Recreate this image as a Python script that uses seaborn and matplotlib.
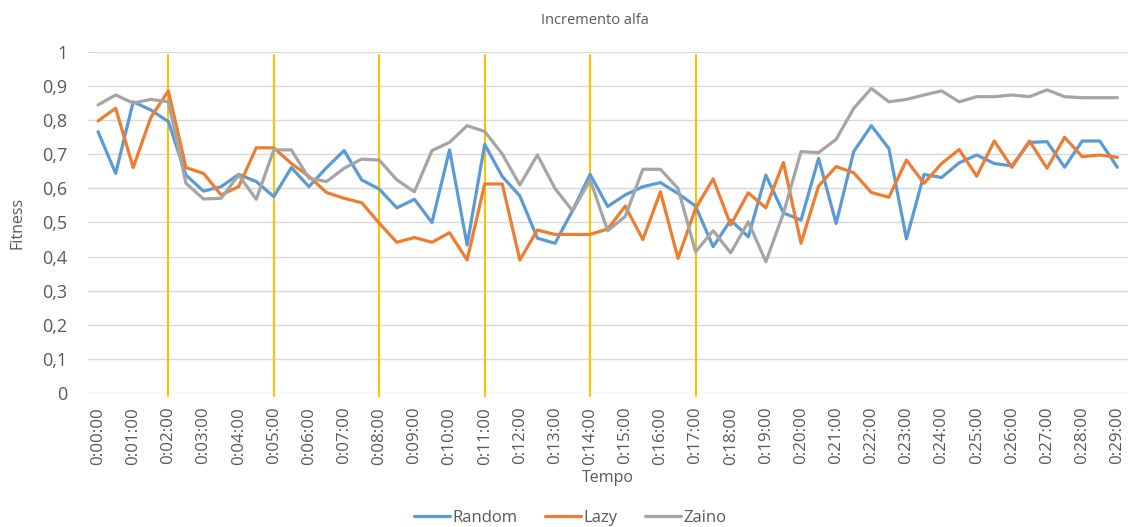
import matplotlib
matplotlib.use("Agg")
import matplotlib.pyplot as plt
import seaborn as sns
import pandas as pd
import numpy as np

# ---- data (every 30 s, 0:00:00 .. 0:29:00) ----
random_vals = [0.766, 0.644, 0.854, 0.830, 0.796, 0.639, 0.592, 0.605, 0.641, 0.620,
               0.576, 0.661, 0.605, 0.661, 0.711, 0.625, 0.598, 0.543, 0.568, 0.500,
               0.713, 0.434, 0.729, 0.635, 0.578, 0.454, 0.439, 0.535, 0.641, 0.547,
               0.581, 0.605, 0.617, 0.585, 0.548, 0.429, 0.507, 0.458, 0.639, 0.528,
               0.507, 0.688, 0.497, 0.708, 0.784, 0.717, 0.452, 0.641, 0.632, 0.675,
               0.698, 0.673, 0.666, 0.735, 0.737, 0.662, 0.739, 0.739, 0.662]
lazy_vals = [0.798, 0.835, 0.661, 0.808, 0.886, 0.661, 0.644, 0.581, 0.605, 0.719,
             0.719, 0.673, 0.635, 0.588, 0.571, 0.558, 0.498, 0.442, 0.456, 0.442,
             0.470, 0.390, 0.613, 0.613, 0.390, 0.478, 0.465, 0.465, 0.465, 0.481,
             0.548, 0.450, 0.590, 0.395, 0.541, 0.628, 0.493, 0.587, 0.543, 0.676,
             0.439, 0.607, 0.664, 0.646, 0.588, 0.574, 0.683, 0.615, 0.673, 0.714,
             0.636, 0.739, 0.662, 0.739, 0.659, 0.750, 0.693, 0.698, 0.691]
zaino_vals = [0.845, 0.874, 0.850, 0.861, 0.854, 0.615, 0.569, 0.571, 0.639, 0.568,
              0.713, 0.713, 0.630, 0.620, 0.659, 0.686, 0.683, 0.625, 0.590, 0.711,
              0.735, 0.784, 0.767, 0.701, 0.610, 0.698, 0.600, 0.534, 0.625, 0.476,
              0.518, 0.656, 0.656, 0.600, 0.414, 0.476, 0.411, 0.502, 0.385, 0.527,
              0.708, 0.705, 0.744, 0.835, 0.893, 0.854, 0.861, 0.874, 0.886, 0.854,
              0.869, 0.869, 0.874, 0.869, 0.889, 0.869, 0.866, 0.866, 0.866]
series_names = ["Random", "Lazy", "Zaino"]
tick_labels = [f"0:{m:02d}:00" for m in range(30)]
marker_times = ["0:02:00", "0:05:00", "0:08:00", "0:11:00", "0:14:00", "0:17:00"]
y_ticks = [0, 0.1, 0.2, 0.3, 0.4, 0.5, 0.6, 0.7, 0.8, 0.9, 1.0]
y_tick_labels = ["0", "0,1", "0,2", "0,3", "0,4", "0,5", "0,6", "0,7", "0,8", "0,9", "1"]

n = len(random_vals)
df = pd.DataFrame({
    "t": list(range(n)) * 3,
    "Fitness": random_vals + lazy_vals + zaino_vals,
    "serie": sum([[s] * n for s in series_names], []),
})

sns.set_theme(style="white")
plt.rcParams["font.family"] = ["Open Sans", "DejaVu Sans"]
text_col = "#595959"

fig = plt.figure(figsize=(11.29, 5.27), dpi=100)
ax = fig.add_axes([0.078, 0.2543, 0.921, 0.647])

palette = {"Random": "#5B9BD5", "Lazy": "#ED7D31", "Zaino": "#A5A5A5"}
sns.lineplot(data=df, x="t", y="Fitness", hue="serie", palette=palette,
             linewidth=2.3, ax=ax, legend=True)

for mt in marker_times:
    idx = tick_labels.index(mt) * 2
    ax.axvline(idx, ymin=-0.008, ymax=0.99, color="#FFC000", lw=1.5, zorder=1,
               clip_on=False)

ax.set_ylim(0, 1)
ax.set_xlim(-0.57, n - 0.4)
ax.set_yticks(y_ticks)
ax.set_yticklabels(y_tick_labels, color=text_col, fontsize=13)
ax.set_xticks(list(range(0, n, 2)))
ax.set_xticklabels(tick_labels, rotation=90, color=text_col, fontsize=12.2)
ax.tick_params(axis="x", length=0, pad=10)
ax.tick_params(axis="y", length=0, pad=15)
ax.yaxis.grid(True, color="#D9D9D9", lw=1)
ax.set_axisbelow(True)
for s in ax.spines.values():
    s.set_visible(False)

ax.set_xlabel("Tempo", color=text_col, fontsize=11.5, labelpad=4)
ax.set_ylabel("Fitness", color=text_col, fontsize=11.5, labelpad=12)
fig.text(0.527, 0.962, "Incremento alfa", ha="center", va="center",
         color=text_col, fontsize=10.5)

handles, labels = ax.get_legend_handles_labels()
ax.legend(handles, labels, loc="center", ncol=3, frameon=False, fontsize=12,
          handlelength=2.2, handletextpad=0.15, columnspacing=1.6,
          labelcolor=text_col)
ax.get_legend().set_bbox_to_anchor((0.505, 0.018), transform=fig.transFigure)

fig.savefig("out.png", dpi=100, facecolor="white")
